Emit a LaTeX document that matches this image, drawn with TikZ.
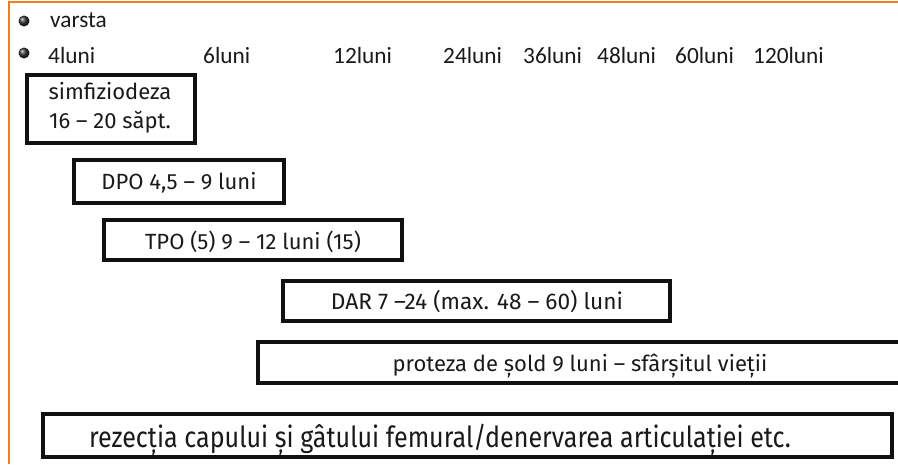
\documentclass[tikz,border=0pt]{standalone}
\usepackage{fontspec}
\setmainfont{Fira Sans}
\newfontfamily\hdrfont{Carlito}
\definecolor{frameorange}{HTML}{F47A20}
\definecolor{boxline}{HTML}{111111}
\definecolor{txt}{HTML}{1A1A1A}
\tikzset{
  pbox/.style={draw=boxline, line width=3.5pt},
  btext/.style={anchor=base, inner sep=0pt, text=txt, font=\fontsize{22}{26}\selectfont},
  htext/.style={anchor=base west, inner sep=0pt, text=txt, font=\hdrfont\fontsize{23.3}{28}\selectfont},
  bullet/.style={circle, inner sep=0pt, minimum size=11pt, ball color=black!80, draw=none}
}
\begin{document}
\begin{tikzpicture}[x=1pt,y=-1pt]
\useasboundingbox (0,0) rectangle (898,464);
\fill[white] (0,0) rectangle (898,464);
% frame
\draw[frameorange, line width=2pt] (9,464) -- (9,2) -- (898,2);
% header
\node[bullet] (b1) at (24,21) {};
\node[bullet] (b2) at (24,53) {};
\node[htext] (varsta) at (50,27) {varsta};
\node[htext] (l4) at (48,63) {4luni};
\node[htext] (l6) at (203,63) {6luni};
\node[htext] (l12) at (333,63) {12luni};
\node[htext] (l24) at (443,63) {24luni};
\node[htext] (l36) at (523,63) {36luni};
\node[htext] (l48) at (597,63) {48luni};
\node[htext] (l60) at (675,63) {60luni};
\node[htext] (l120) at (753,63) {120luni};
% boxes
\draw[pbox] (27,75) rectangle (195,143);
\node[btext] (simf1) at (110,99) {simfiziodeza};
\node[btext] (simf2) at (110,128) {16 – 20 săpt.};
\draw[pbox] (74,160) rectangle (284,203);
\node[btext] (dpo) at (179,189) {DPO 4,5 – 9 luni};
\draw[pbox] (104,220) rectangle (402,260);
\node[btext] (tpo) at (253,249) {TPO (5) 9 – 12 luni (15)};
\draw[pbox] (283,281) rectangle (670,321);
\node[btext, font=\fontsize{22.7}{26}\selectfont] (dar) at (477,309) {DAR 7 –24 (max. 48 – 60) luni};
\draw[pbox] (900,342) -- (258,342) -- (258,383) -- (900,383);
\node[btext] (prot) at (580,371) {proteza de șold 9 luni – sfârșitul vieții};
\draw[pbox] (43,414) rectangle (892,457);
\node[btext, font=\fontsize{29}{32}\selectfont] (rez) at (440,447) {\scalebox{0.865}[1]{rezecția capului și gâtului femural/denervarea articulației etc.}};
\end{tikzpicture}
\end{document}
